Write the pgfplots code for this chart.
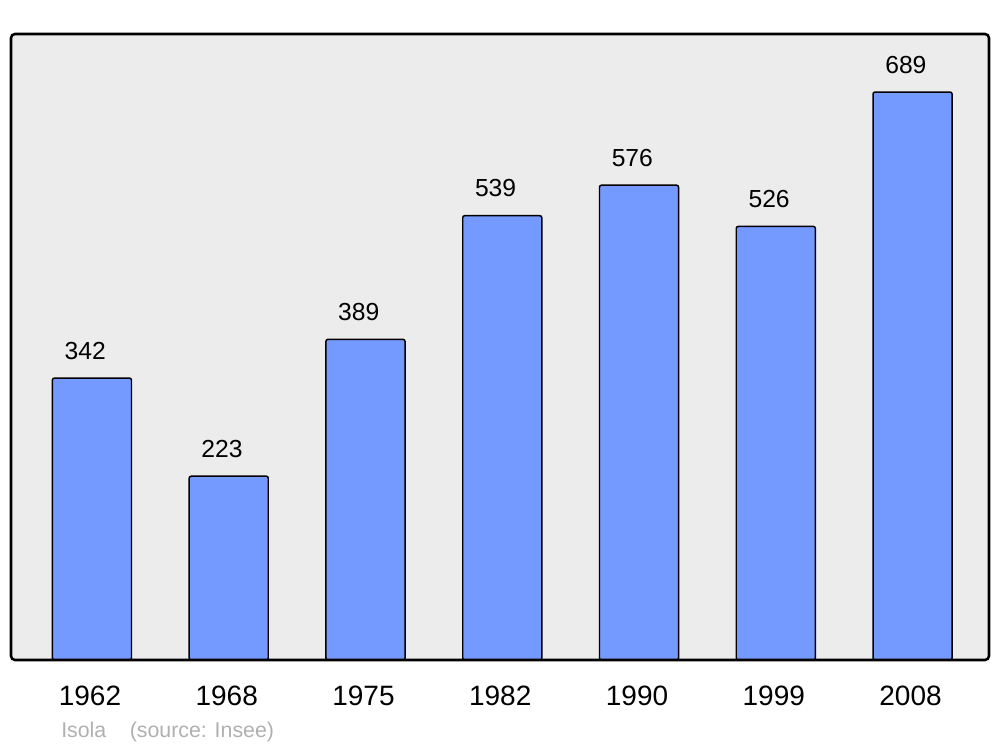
\documentclass[border=0pt]{standalone}
\usepackage{fontspec}
\setmainfont{Liberation Sans}
\usepackage{pgfplots}
\pgfplotsset{compat=1.18}
\definecolor{barblue}{RGB}{116,153,255}
\definecolor{bgc}{RGB}{236,236,236}
\definecolor{srcgray}{RGB}{176,176,176}
\begin{document}
\begin{tikzpicture}
\path (-8.25pt,-65.25pt) rectangle (741.75pt,495pt);
\begin{axis}[
  at={(0,0)}, anchor=south west,
  scale only axis, width=733.5pt, height=469.5pt,
  xmin=-0.592, xmax=6.559, ymin=0, ymax=759.4,
  axis line style={draw=none},
  axis background/.style={fill=bgc},
  xtick=data, xticklabels={1962,1968,1975,1982,1990,1999,2008},
  ytick=\empty, major tick length=0pt,
  xticklabel style={font=\fontsize{21}{25}\selectfont, anchor=base, yshift=-33.75pt, xshift=-1.5pt},
  /pgf/number format/assume math mode=true,
  ybar, bar width=0.578, bar shift=0pt,
  nodes near coords,
  every node near coord/.append style={font=\fontsize{18.5}{22}\selectfont, anchor=base, yshift=14.25pt, xshift=-5pt},
  clip=false,
]
\addplot[fill=barblue, draw=black, line width=1.1pt, rounded corners=1.5pt] coordinates {(0,342) (1,223) (2,389) (3,539) (4,576) (5,526) (6,689)};
\end{axis}
\draw[line width=1.9pt, rounded corners=3pt] (0,0) rectangle (733.5pt,469.5pt);
\node[anchor=base west, inner sep=0pt, text=srcgray, font=\fontsize{16}{19}\selectfont] at (37.5pt,-57.75pt) {Isola\hspace{1.1em}(source: Insee)};
\end{tikzpicture}
\end{document}
